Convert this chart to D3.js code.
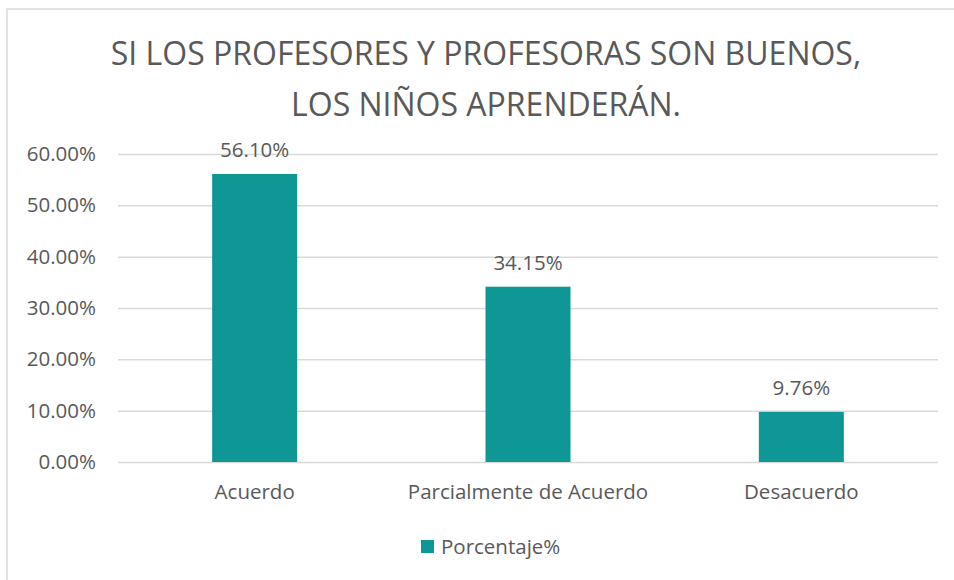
<!DOCTYPE html>
<html>
<head>
<meta charset="utf-8">
<script src="https://cdn.jsdelivr.net/npm/d3@7"></script>
<style>
  body { margin: 0; background: #fff; }
  text { font-family: "Open Sans", sans-serif; fill: #595959; }
</style>
</head>
<body>
<div id="chart"></div>
<script>
// DATA
var categories = ["Acuerdo", "Parcialmente de Acuerdo", "Desacuerdo"];
var values = [0.5610, 0.3415, 0.0976];
var yTicks = [0, 0.1, 0.2, 0.3, 0.4, 0.5, 0.6];
var seriesName = "Porcentaje%";
var titleLines = ["SI LOS PROFESORES Y PROFESORAS SON BUENOS,", "LOS NIÑOS APRENDERÁN."];

var width = 954, height = 580;
var barColor = "#0e9794";
var fs = "20.5px";

var svg = d3.select("#chart").append("svg")
    .attr("width", width)
    .attr("height", height);

// chart frame
svg.append("rect")
    .attr("x", 7).attr("y", 9)
    .attr("width", width).attr("height", height)
    .attr("fill", "#fff")
    .attr("stroke", "#d9d9d9")
    .attr("stroke-width", 1.5);

var plot = {left: 118, right: 938, top: 154, bottom: 462};

var x = d3.scaleBand()
    .domain(categories)
    .range([plot.left, plot.right]);

var y = d3.scaleLinear()
    .domain([0, 0.6])
    .range([plot.bottom, plot.top]);

// title
svg.selectAll(".title")
    .data(titleLines)
    .enter().append("text")
      .attr("class", "title")
      .attr("x", 486)
      .attr("y", function(d, i){ return 65 + i * 51; })
      .attr("text-anchor", "middle")
      .style("font-size", "32px")
      .text(function(d){ return d; });

// gridlines + y labels
var yAxis = d3.axisLeft(y)
    .tickValues(yTicks)
    .tickSize(-(plot.right - plot.left))
    .tickPadding(22)
    .tickFormat(function(d){ return (d * 100).toFixed(2) + "%"; });

var gy = svg.append("g")
    .attr("transform", "translate(" + plot.left + ",0)")
    .call(yAxis);
gy.select(".domain").remove();
gy.selectAll("line").attr("stroke", "#d9d9d9").attr("stroke-width", 1.5);
gy.selectAll("text").style("font-size", fs).attr("fill", "#595959");

// x labels
var xAxis = d3.axisBottom(x).tickSize(0).tickPadding(22);
var gx = svg.append("g")
    .attr("transform", "translate(0," + plot.bottom + ")")
    .call(xAxis);
gx.select(".domain").remove();
gx.selectAll("text").style("font-size", fs).attr("fill", "#595959");

// bars
var barW = x.bandwidth() * 0.311;
svg.selectAll(".bar")
    .data(values)
    .enter().append("rect")
      .attr("class", "bar")
      .attr("x", function(d, i){ return x(categories[i]) + (x.bandwidth() - barW) / 2; })
      .attr("y", function(d){ return y(d); })
      .attr("width", barW)
      .attr("height", function(d){ return y(0) - y(d); })
      .attr("fill", barColor);

// data labels
svg.selectAll(".lbl")
    .data(values)
    .enter().append("text")
      .attr("class", "lbl")
      .attr("x", function(d, i){ return x(categories[i]) + x.bandwidth() / 2; })
      .attr("y", function(d){ return y(d) - 17; })
      .attr("text-anchor", "middle")
      .style("font-size", fs)
      .text(function(d){ return (d * 100).toFixed(2) + "%"; });

// legend
var leg = svg.append("g").attr("transform", "translate(421,540)");
leg.append("rect")
    .attr("width", 13).attr("height", 13)
    .attr("fill", barColor);
leg.append("text")
    .attr("x", 20).attr("y", 14)
    .style("font-size", fs)
    .text(seriesName);
</script>
</body>
</html>
